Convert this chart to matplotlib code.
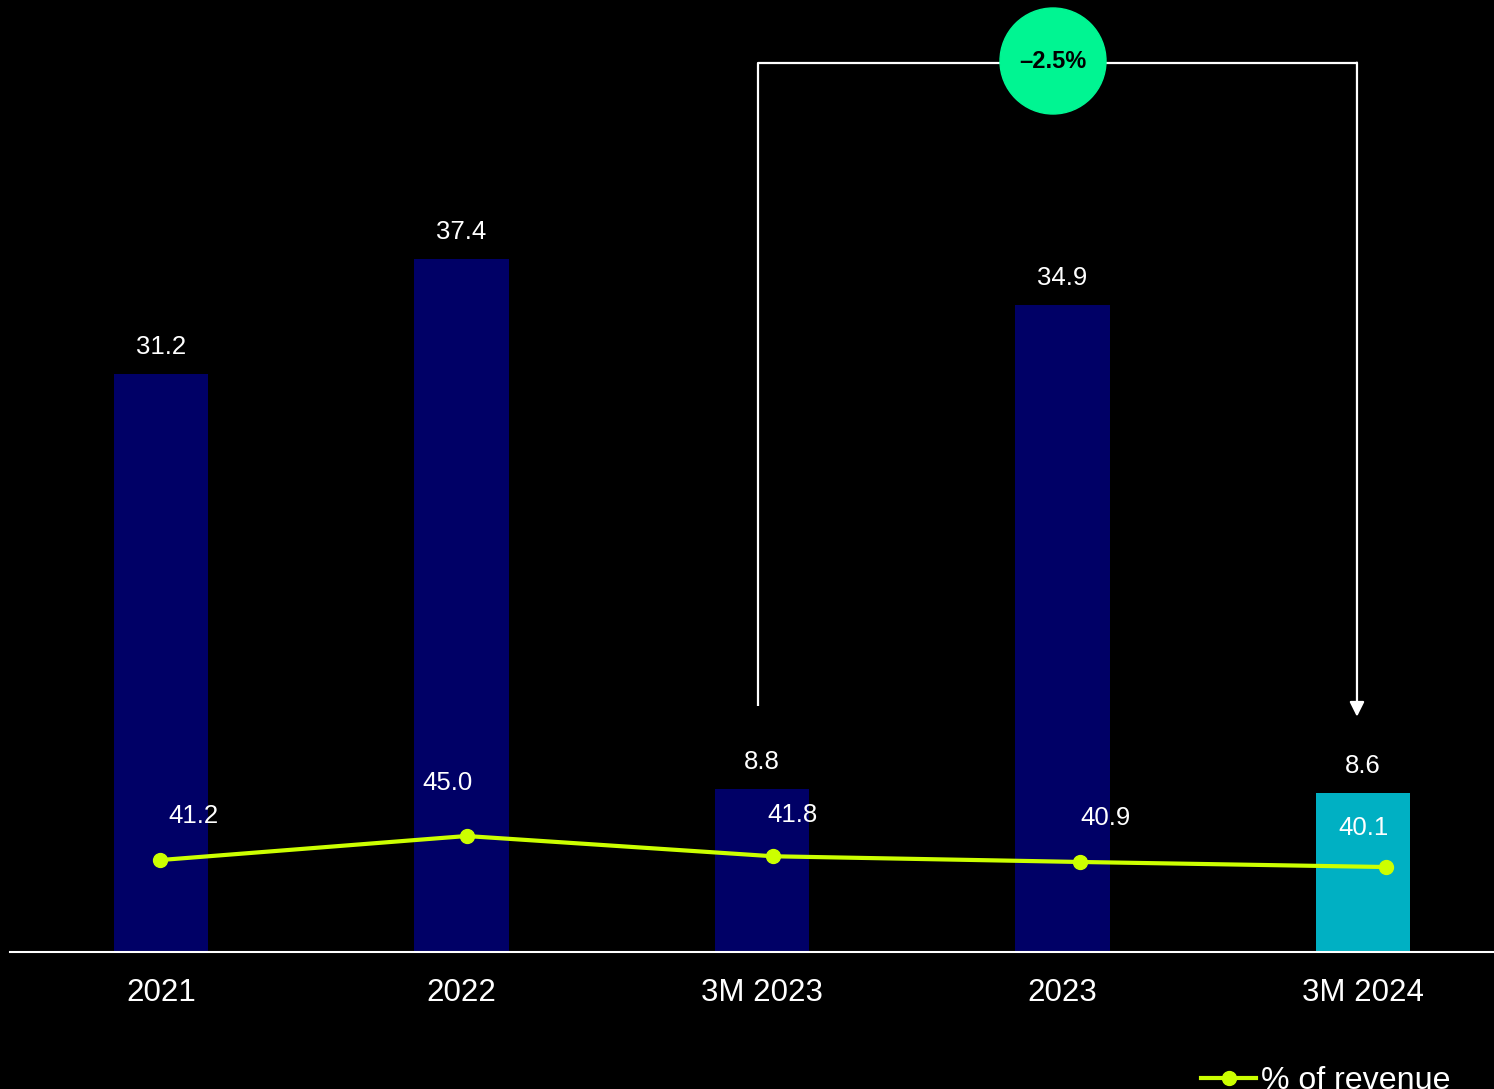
import matplotlib
matplotlib.use('Agg')
import matplotlib.pyplot as plt
from matplotlib.patches import Ellipse

plt.rcParams['font.family'] = ['Liberation Sans', 'DejaVu Sans']

# data
categories = ['2021', '2022', '3M 2023', '2023', '3M 2024']
values = [31.2, 37.4, 8.8, 34.9, 8.6]
pct_revenue = [41.2, 45.0, 41.8, 40.9, 40.1]
change_label = '\u20132.5%'
legend_label = '% of revenue'

# styles
navy = '#000066'
teal = '#00B0C3'
lime = '#CCFF00'
green = '#00F592'
bar_colors = [navy, navy, navy, navy, teal]
# label offsets for the line values (points)
line_label_offsets = [(24, 32), (-14, 38), (14, 30), (19, 32), (-16, 28)]

W, H = 1494, 1089
fig = plt.figure(figsize=(W / 100, H / 100), dpi=100, facecolor='black')
pos = [10 / W, 137 / H, 1484 / W, 952 / H]

ax = fig.add_axes(pos)
ax.set_facecolor('black')
x = range(len(categories))
bars = ax.bar(x, values, width=0.313, color=bar_colors)
ax.set_xlim(-0.5025, 4.436)
ax.set_ylim(0, 51.38)
for b, v in zip(bars, values):
    ax.annotate(f'{v:.1f}', (b.get_x() + b.get_width() / 2, v), xytext=(0, 19.5),
                textcoords='offset points', ha='center', va='center',
                color='white', fontsize=18.5)
ax.set_xticks(list(x))
ax.set_xticklabels(categories, color='white', fontsize=22.5)
ax.tick_params(axis='x', length=0, pad=19)
ax.set_yticks([])
for s in ['top', 'right', 'left']:
    ax.spines[s].set_visible(False)
ax.spines['bottom'].set_color('white')
ax.spines['bottom'].set_linewidth(1.5)

# bracket showing change
ax.plot([1.987, 1.987, 3.98], [13.3, 48.0, 48.0], color='white', lw=1.6,
        clip_on=False, solid_capstyle='butt')
ax.annotate('', xy=(3.98, 12.7), xytext=(3.98, 48.0),
            arrowprops=dict(arrowstyle='-|>', color='white', lw=1.6,
                            mutation_scale=22, shrinkA=0, shrinkB=0),
            annotation_clip=False)
circ = Ellipse((1053 / W, 1 - 61 / H), 106 / W, 106 / H, transform=fig.transFigure,
               color=green, zorder=5)
fig.patches.append(circ)
fig.text(1053 / W, 1 - 62 / H, change_label, ha='center', va='center',
         fontsize=17, fontweight='bold', color='black', zorder=6)

# line on its own axes
ax2 = fig.add_axes(pos)
ax2.patch.set_alpha(0)
ax2.axis('off')
ln, = ax2.plot(range(len(pct_revenue)), pct_revenue, color=lime, lw=3,
               marker='o', markersize=10, label=legend_label)
ax2.set_xlim(-0.4894, 4.3523)
ax2.set_ylim(26.67, 177.13)
for i, (v, off) in enumerate(zip(pct_revenue, line_label_offsets)):
    ax2.annotate(f'{v:.1f}', (i, v), xytext=off, textcoords='offset points',
                 ha='center', va='center', color='white', fontsize=18.5)

fig.legend(handles=[ln], loc='center left', bbox_to_anchor=(1201 / W, 1 - 1081 / H),
           frameon=False, fontsize=23.1, labelcolor='white', handlelength=1.72,
           handletextpad=0.15, borderaxespad=0, borderpad=0)

fig.savefig('out.png', dpi=100, facecolor='black')
